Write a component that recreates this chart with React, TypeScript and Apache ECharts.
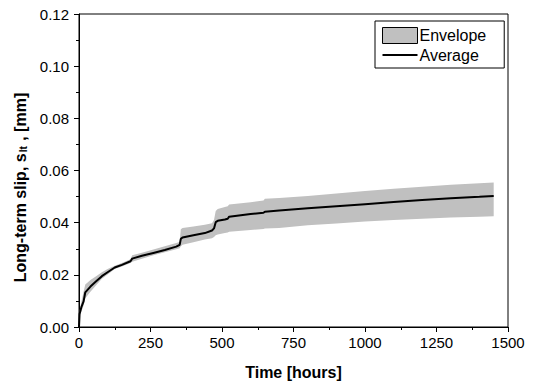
import React, { useEffect, useRef } from "react";
import * as echarts from "echarts";

const times = [0, 2, 8, 16, 22, 40, 60, 80, 100, 125, 150, 180, 186, 220, 260, 300, 340, 352, 356, 362, 400, 440, 465, 472, 478, 485, 510, 520, 525, 600, 645, 650, 700, 800, 900, 1000, 1100, 1200, 1300, 1400, 1450];
const average = [0, 0.005, 0.0075, 0.0098, 0.0133, 0.0155, 0.0175, 0.0195, 0.021, 0.0228, 0.0238, 0.0252, 0.0262, 0.0273, 0.0284, 0.0295, 0.0308, 0.0315, 0.0338, 0.0343, 0.0352, 0.036, 0.037, 0.0378, 0.0402, 0.0407, 0.0412, 0.0415, 0.0423, 0.0433, 0.0438, 0.0442, 0.0447, 0.0455, 0.0463, 0.0471, 0.0479, 0.0487, 0.0494, 0.0499, 0.0502];
const upper = [0, 0.006, 0.0095, 0.0135, 0.0163, 0.018, 0.0195, 0.021, 0.0222, 0.0235, 0.0245, 0.026, 0.0275, 0.0285, 0.0297, 0.031, 0.0322, 0.0326, 0.0375, 0.038, 0.0385, 0.0392, 0.0398, 0.041, 0.0445, 0.0452, 0.046, 0.0463, 0.047, 0.0478, 0.0485, 0.0492, 0.0495, 0.0502, 0.0512, 0.0521, 0.053, 0.0538, 0.0545, 0.0551, 0.0554];
const lower = [0, 0.004, 0.0058, 0.0082, 0.011, 0.0135, 0.016, 0.0185, 0.0201, 0.0222, 0.0232, 0.0245, 0.025, 0.0262, 0.0275, 0.0287, 0.0298, 0.0302, 0.031, 0.0315, 0.0325, 0.0335, 0.034, 0.0345, 0.0352, 0.0355, 0.036, 0.0362, 0.0365, 0.0372, 0.0376, 0.0378, 0.038, 0.039, 0.0397, 0.0404, 0.041, 0.0415, 0.042, 0.0423, 0.0425];

const xTitle = "Time [hours]";
const legendNames = ["Envelope", "Average"];

const FONT = "'Liberation Sans', Arial, sans-serif";

export default function App() {
  const ref = useRef<HTMLDivElement>(null);
  useEffect(() => {
    if (!ref.current) return;
    const chart = echarts.init(ref.current, null, { renderer: "svg" });
    const avgData = times.map((t, i) => [t, average[i]]);
    chart.setOption({
      animation: false,
      backgroundColor: "#fff",
      grid: {
        left: 79,
        right: 26,
        top: 14,
        bottom: 57,
        show: true,
        borderColor: "#000",
        borderWidth: 1,
      },
      legend: {
        orient: "vertical",
        left: 375,
        top: 21,
        padding: [6, 18, 5, 7],
        itemGap: 3,
        itemWidth: 35,
        itemHeight: 16,
        borderColor: "#000",
        borderWidth: 1,
        backgroundColor: "#fff",
        textStyle: { fontFamily: FONT, fontSize: 16, color: "#000", padding: [0, 0, 0, -3] },
        data: [
          {
            name: legendNames[0],
            icon: "rect",
            itemStyle: { color: "#c0c0c0", borderColor: "#000", borderWidth: 1 },
          },
          {
            name: legendNames[1],
            icon: "path://M0,0H35V2H0Z",
            itemStyle: { color: "#000" },
          },
        ],
      },
      xAxis: {
        type: "value",
        min: 0,
        max: 1500,
        interval: 250,
        name: xTitle,
        nameLocation: "middle",
        nameGap: 37,
        nameTextStyle: { fontFamily: FONT, fontSize: 16, fontWeight: "bold", color: "#000" },
        axisLine: { show: true, lineStyle: { color: "#000", width: 1 } },
        axisTick: { show: true, inside: false, length: 5, lineStyle: { color: "#000" } },
        minorTick: { show: true, splitNumber: 2, length: 3, lineStyle: { color: "#000" } },
        splitLine: { show: false },
        axisLabel: {
          fontFamily: FONT,
          fontSize: 15,
          color: "#000",
          margin: 8,
          formatter: (v: number) => String(v),
        },
      },
      yAxis: {
        type: "value",
        min: 0,
        max: 0.12,
        interval: 0.02,
        name: "{a|Long-term slip, s}{b|lt}{a| , [mm]}",
        nameLocation: "middle",
        nameGap: 50,
        nameRotate: 90,
        nameTextStyle: {
          padding: [0, 34, 0, 0],
          rich: {
            a: { fontFamily: FONT, fontSize: 16, fontWeight: "bold", color: "#000" },
            b: { fontFamily: FONT, fontSize: 10, fontWeight: "bold", color: "#000", verticalAlign: "bottom", padding: [7, 1, 0, 1] },
          },
        },
        axisLine: { show: true, lineStyle: { color: "#000", width: 1 } },
        axisTick: { show: true, inside: false, length: 5, lineStyle: { color: "#000" } },
        minorTick: { show: true, splitNumber: 2, length: 3, lineStyle: { color: "#000" } },
        splitLine: { show: false },
        axisLabel: {
          fontFamily: FONT,
          fontSize: 15,
          color: "#000",
          margin: 10,
          formatter: (v: number) => v.toFixed(2),
        },
      },
      series: [
        {
          name: legendNames[0],
          type: "custom",
          data: [[0, 0]],
          itemStyle: { color: "#c0c0c0" },
          z: 2,
          renderItem: (_params: any, api: any) => {
            const pts: number[][] = [];
            for (let i = 0; i < times.length; i++) pts.push(api.coord([times[i], upper[i]]));
            for (let i = times.length - 1; i >= 0; i--) pts.push(api.coord([times[i], lower[i]]));
            return {
              type: "polygon",
              shape: { points: pts },
              style: { fill: "#c0c0c0", stroke: "none" },
            };
          },
        },
        {
          name: legendNames[1],
          type: "line",
          data: avgData,
          symbol: "none",
          lineStyle: { color: "#000", width: 2 },
          itemStyle: { color: "#000" },
          z: 3,
        },
      ],
    });
    return () => chart.dispose();
  }, []);
  return (
    <div
      ref={ref}
      style={{ position: "fixed", left: 0, top: 0, width: 534, height: 385 }}
    />
  );
}
